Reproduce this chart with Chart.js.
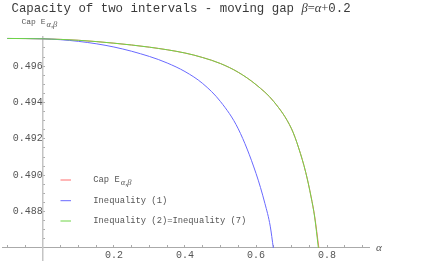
<!DOCTYPE html>
<html>
<head>
<meta charset="utf-8">
<script src="https://cdn.jsdelivr.net/npm/chart.js@4"></script>
<style>
  html, body { margin: 0; padding: 0; background: #fff; }
</style>
</head>
<body>
<canvas id="chart" width="436" height="271"></canvas>
<script>
// values
const alphaCap = [-0.1, 0.0, 0.1, 0.2, 0.3, 0.4, 0.45, 0.5, 0.55, 0.6, 0.65, 0.7, 0.72, 0.74, 0.755, 0.765, 0.777];
const capValues = [0.49752, 0.49750, 0.49742, 0.49726, 0.49704, 0.49672, 0.49647, 0.49614, 0.49566, 0.49498, 0.49405, 0.49255, 0.49150, 0.49015, 0.48882, 0.48775, 0.48600];

const alphaIneq1 = [-0.1, 0.0, 0.1, 0.2, 0.3, 0.35, 0.4, 0.45, 0.5, 0.55, 0.6, 0.625, 0.64, 0.6487];
const ineq1Values = [0.49752, 0.49750, 0.49736, 0.49705, 0.49653, 0.49617, 0.49570, 0.49504, 0.49405, 0.49255, 0.49010, 0.48845, 0.48720, 0.48600];

const alphaIneq2 = [-0.1, 0.0, 0.1, 0.2, 0.3, 0.4, 0.45, 0.5, 0.55, 0.6, 0.65, 0.7, 0.72, 0.74, 0.755, 0.765, 0.7755];
const ineq2Values = [0.49752, 0.49750, 0.49742, 0.49726, 0.49704, 0.49672, 0.49647, 0.49614, 0.49566, 0.49498, 0.49405, 0.49255, 0.49150, 0.49015, 0.48880, 0.48770, 0.48600];

const seriesNames = ['Cap E', 'Inequality (1)', 'Inequality (2)=Inequality (7)'];
const seriesColors = ['rgb(255,110,110)', 'rgb(105,105,255)', 'rgb(110,212,70)'];

const xTicks = [-0.1, -0.05, 0, 0.05, 0.1, 0.15, 0.2, 0.25, 0.3, 0.35, 0.4, 0.45, 0.5, 0.55, 0.6, 0.65, 0.7, 0.75, 0.8, 0.85, 0.9];
const xLabels = [0.2, 0.4, 0.6, 0.8];
const yTicks = [0.4865, 0.487, 0.4875, 0.488, 0.4885, 0.489, 0.4895, 0.490, 0.4905, 0.491, 0.4915, 0.492,
  0.4925, 0.493, 0.4935, 0.494, 0.4945, 0.495, 0.4955, 0.496, 0.4965, 0.497, 0.4975];
const yLabels = [0.488, 0.490, 0.492, 0.494, 0.496];

const mono = 'Liberation Mono';
const serif = 'Liberation Serif';

const isIn = (list, v) => list.some((l) => Math.abs(l - v) < 1e-9);
const toPoints = (xs, ys) => xs.map((x, i) => ({ x, y: ys[i] }));

const textPlugin = {
  id: 'texts',
  afterDraw(chart) {
    const ctx = chart.ctx;
    ctx.save();
    ctx.textBaseline = 'alphabetic';
    ctx.textAlign = 'left';

    // title
    ctx.fillStyle = '#3a3a3a';
    ctx.font = `12.4px "${mono}"`;
    const head = 'Capacity of two intervals - moving gap ';
    let x = 11.5;
    ctx.fillText(head, x, 11.5);
    x += ctx.measureText(head).width;
    const parts = [
      ['β', `italic 12.5px "${serif}"`],
      ['=', `12.5px "${serif}"`],
      ['α', `italic 12.5px "${serif}"`],
      ['+', `12.5px "${serif}"`],
      ['0.2', `12.4px "${mono}"`],
    ];
    for (const [t, f] of parts) {
      ctx.font = f;
      ctx.fillText(t, x, 11.5);
      x += ctx.measureText(t).width;
    }

    // y axis label
    ctx.fillStyle = '#555';
    ctx.font = `8px "${mono}"`;
    ctx.fillText('Cap E', 21.5, 23.5);
    const lx = 21.5 + ctx.measureText('Cap E').width + 1;
    ctx.font = `italic 8.5px "${serif}"`;
    ctx.fillText('α,β', lx, 26.5);

    // x axis label
    const yPix = chart.scales.y.getPixelForValue(0.486);
    ctx.font = `italic 11px "${serif}"`;
    ctx.textBaseline = 'middle';
    ctx.fillText('α', 376, yPix);

    // legend
    const rows = [180, 200.7, 221];
    chart.data.datasets.forEach((ds, i) => {
      const ry = rows[i];
      ctx.strokeStyle = ds.borderColor;
      ctx.lineWidth = 1;
      ctx.beginPath();
      ctx.moveTo(60.5, ry);
      ctx.lineTo(71, ry);
      ctx.stroke();
      ctx.fillStyle = '#555';
      ctx.font = `8.8px "${mono}"`;
      ctx.textBaseline = 'middle';
      ctx.fillText(ds.label, 93.3, ry);
      if (i === 0) {
        const sx = 93.3 + ctx.measureText(ds.label).width + 1;
        ctx.font = `italic 8.5px "${serif}"`;
        ctx.fillText('α,β', sx, ry + 3);
      }
    });
    ctx.restore();
  },
};

const ctx = document.getElementById('chart');
new Chart(ctx, {
  type: 'line',
  data: {
    datasets: [
      {
        label: seriesNames[0],
        data: toPoints(alphaCap, capValues),
        borderColor: seriesColors[0],
        order: 2,
      },
      {
        label: seriesNames[1],
        data: toPoints(alphaIneq1, ineq1Values),
        borderColor: seriesColors[1],
        order: 1,
      },
      {
        label: seriesNames[2],
        data: toPoints(alphaIneq2, ineq2Values),
        borderColor: seriesColors[2],
        order: 0,
      },
    ],
  },
  options: {
    responsive: false,
    animation: false,
    devicePixelRatio: 1,
    layout: { padding: { left: 2, right: 67, top: 37, bottom: 1.7 } },
    elements: {
      point: { radius: 0 },
      line: { borderWidth: 1, cubicInterpolationMode: 'monotone', fill: false },
    },
    plugins: {
      legend: { display: false },
      tooltip: { enabled: false },
      title: { display: false },
    },
    scales: {
      x: {
        type: 'linear',
        axis: 'x',
        min: -0.115,
        max: 0.918,
        position: { y: 0.486 },
        border: { color: '#aaa', width: 1 },
        grid: { drawOnChartArea: false, drawTicks: true, tickLength: -3, tickColor: '#aaa' },
        afterBuildTicks: (s) => { s.ticks = xTicks.map((v) => ({ value: v })); },
        ticks: {
          autoSkip: false,
          maxRotation: 0,
          padding: 4.8,
          color: '#555',
          font: { family: mono, size: 10 },
          callback: (v) => (isIn(xLabels, v) ? v.toFixed(1) : ''),
        },
      },
      y: {
        type: 'linear',
        axis: 'y',
        min: 0.4853,
        max: 0.4976,
        position: { x: 0 },
        border: { color: '#c4c4c4', width: 1.5 },
        grid: { drawOnChartArea: false, drawTicks: true, tickLength: -3, tickColor: '#aaa' },
        afterBuildTicks: (s) => { s.ticks = yTicks.map((v) => ({ value: v })); },
        ticks: {
          autoSkip: false,
          padding: 4.3,
          color: '#555',
          font: { family: mono, size: 10 },
          callback: (v) => (isIn(yLabels, v) ? v.toFixed(3) : ''),
        },
      },
    },
  },
  plugins: [textPlugin],
});
</script>
</body>
</html>
